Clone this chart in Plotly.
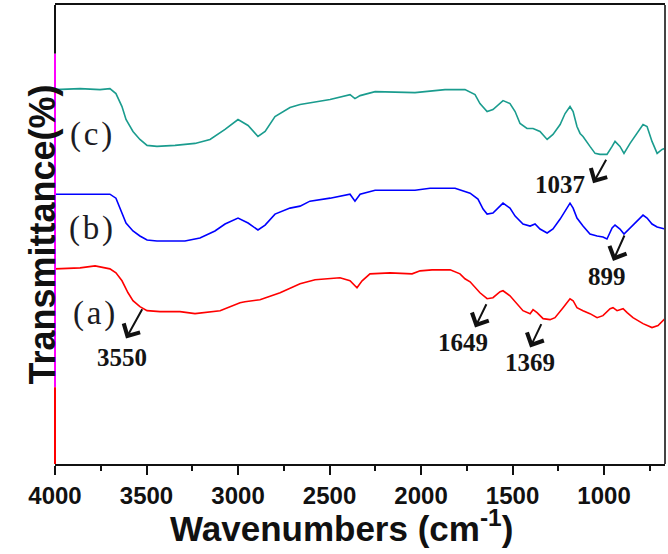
import plotly.graph_objects as go

# ---- data (wavenumber cm-1, transmittance arbitrary units, offset curves) ----
wn_c = [4000, 3863, 3754, 3700, 3667, 3634, 3612, 3574, 3536, 3497, 3443, 3344, 3235, 3153, 3071, 3000,
        2945, 2891, 2852, 2798, 2716, 2661, 2497, 2388, 2361, 2333, 2251, 2033, 1869, 1760, 1705, 1678,
        1639, 1607, 1552, 1514, 1486, 1459, 1421, 1388, 1350, 1311, 1279, 1240, 1213, 1186, 1169, 1148,
        1131, 1115, 1077, 1049, 1022, 984, 956, 940, 913, 891, 858, 820, 787, 765, 738, 710, 683, 667]
t_c = [376, 377, 376, 377, 372, 359, 346, 334, 326, 320, 319, 320, 322, 326, 336, 346,
       340, 329, 334, 349, 358, 361, 366, 371, 367, 370, 374, 373, 376, 376, 371, 362,
       354, 356, 365, 362, 354, 342, 337, 337, 334, 326, 331, 341, 352, 359, 354, 339,
       332, 329, 319, 312, 311, 311, 319, 324, 319, 312, 322, 332, 341, 339, 324, 312, 316, 317]

wn_b = [4000, 3863, 3754, 3700, 3667, 3634, 3612, 3574, 3536, 3497, 3443, 3290, 3208, 3126, 3071, 3000,
        2945, 2891, 2852, 2798, 2716, 2661, 2607, 2497, 2388, 2361, 2333, 2251, 2033, 1951, 1814, 1732,
        1689, 1661, 1639, 1607, 1552, 1514, 1486, 1443, 1404, 1377, 1350, 1311, 1279, 1240, 1202, 1186,
        1169, 1148, 1115, 1077, 1038, 1006, 984, 956, 940, 913, 891, 858, 820, 787, 765, 738, 710, 683, 667]
t_b = [271, 271, 271, 271, 267, 252, 242, 234, 229, 225, 224, 224, 227, 234, 241, 247,
       242, 235, 240, 251, 257, 259, 264, 267, 271, 264, 271, 275, 275, 277, 277, 272,
       266, 256, 251, 252, 262, 257, 249, 241, 239, 241, 236, 232, 236, 246, 257, 262,
       257, 247, 239, 231, 229, 228, 226, 237, 240, 236, 231, 237, 244, 250, 247, 241, 238, 237, 236]

wn_a = [4000, 3863, 3781, 3700, 3667, 3634, 3601, 3574, 3536, 3497, 3426, 3317, 3235, 3180, 3098, 2989,
        2962, 2880, 2770, 2661, 2579, 2443, 2388, 2350, 2322, 2279, 2169, 2049, 2005, 1940, 1841, 1787,
        1760, 1732, 1678, 1639, 1607, 1568, 1552, 1514, 1475, 1443, 1404, 1388, 1366, 1333, 1295, 1268,
        1224, 1186, 1169, 1148, 1115, 1077, 1038, 1006, 967, 951, 929, 896, 874, 842, 787, 738, 705, 667]
t_a = [196, 197, 199, 196, 192, 184, 172, 164, 158, 154, 153, 153, 151, 152, 154, 162,
       163, 165, 172, 181, 185, 187, 184, 177, 184, 191, 192, 191, 194, 195, 195, 191,
       186, 183, 172, 166, 167, 173, 174, 169, 161, 154, 151, 155, 152, 146, 145, 147,
       157, 166, 164, 157, 154, 151, 147, 149, 156, 157, 154, 156, 152, 147, 141, 137, 139, 146]

curve_labels = ["(a)", "(b)", "(c)"]
label_pos_x = [3787, 3803, 3803]
label_pos_y = [151, 237, 331]

peak_labels = ["3550", "1649", "1369", "1037", "899"]
peak_text_x = [3634, 1770, 1404, 1240, 984]
peak_text_y = [107, 122, 102, 281, 188]
arrow_tail_x = [3519, 1639, 1339, 984, 885]
arrow_tail_y = [157, 162, 142, 307, 231]
arrow_head_x = [3612, 1705, 1404, 1060, 951]
arrow_head_y = [126, 137, 117, 282, 204]

xticks = [4000, 3500, 3000, 2500, 2000, 1500, 1000]

fig = go.Figure()
for wn, t, col in [(wn_a, t_a, "#ff0000"), (wn_b, t_b, "#0000ff"), (wn_c, t_c, "#1a9c8e")]:
    fig.add_trace(go.Scatter(x=wn, y=t, mode="lines", line=dict(color=col, width=1.6),
                             showlegend=False, hoverinfo="skip"))

annotations = []
serif = "Liberation Serif, Times New Roman, serif"
sans = "Liberation Sans, Arial, sans-serif"
for txt, x, y in zip(curve_labels, label_pos_x, label_pos_y):
    lab = txt[0] + "\u200a" + txt[1] + "\u200a" + txt[2]
    annotations.append(dict(x=x, y=y, xref="x", yref="y", text=lab, showarrow=False,
                            font=dict(family=serif, size=33, color="#1c1c24")))
for txt, x, y in zip(peak_labels, peak_text_x, peak_text_y):
    annotations.append(dict(x=x, y=y, xref="x", yref="y", text=txt, showarrow=False,
                            font=dict(family=serif, size=25, color="#141414", weight="bold")))
for hx, hy, tx, ty in zip(arrow_head_x, arrow_head_y, arrow_tail_x, arrow_tail_y):
    annotations.append(dict(x=hx, y=hy, xref="x", yref="y", ax=tx, ay=ty, axref="x", ayref="y",
                            text="", showarrow=True, arrowhead=4, arrowsize=1.8, arrowwidth=2,
                            arrowcolor="#111111"))
annotations.append(dict(x=-0.058, y=0.5, xref="paper", yref="paper", text="Transmittance(%)",
                        textangle=-90, showarrow=False,
                        font=dict(family=sans, size=36, color="#111111", weight="bold")))
annotations.append(dict(x=0.469, y=-0.187, xref="paper", yref="paper", yanchor="bottom",
                        text="Wavenumbers (cm<sup>-1</sup>)", showarrow=False,
                        font=dict(family=sans, size=35, color="#111111", weight="bold")))

shapes = [
    dict(type="line", xref="paper", yref="paper", x0=0, x1=0, y0=1, y1=(464 - 52) / 461,
         line=dict(color="#111111", width=2)),
    dict(type="line", xref="paper", yref="paper", x0=0, x1=0, y0=(464 - 52) / 461, y1=(464 - 387) / 461,
         line=dict(color="#ff00ff", width=2)),
    dict(type="line", xref="paper", yref="paper", x0=0, x1=0, y0=(464 - 387) / 461, y1=0,
         line=dict(color="#ff0000", width=2)),
    dict(type="line", xref="paper", yref="paper", x0=1, x1=1, y0=0, y1=1,
         line=dict(color="#444444", width=2)),
]

fig.update_layout(
    width=668, height=554,
    margin=dict(l=55, r=3, t=3, b=90),
    paper_bgcolor="white", plot_bgcolor="white",
    annotations=annotations, shapes=shapes,
    xaxis=dict(range=[4000, 667], tickvals=xticks, ticktext=[str(v) for v in xticks],
               ticks="outside", ticklen=9, tickwidth=2, tickcolor="#111111",
               minor=dict(dtick=250, tick0=0, ticks="outside", ticklen=5, tickwidth=2, tickcolor="#111111"),
               showline=True, linecolor="#111111", linewidth=2, mirror=True,
               showgrid=False, zeroline=False,
               tickfont=dict(family=sans, size=24, color="#111111", weight="bold")),
    yaxis=dict(range=[0, 461], showticklabels=False, ticks="", showline=False,
               showgrid=False, zeroline=False),
)

fig.write_html("out.html", config={"displayModeBar": False},
               post_script="document.body.style.margin='0px';document.body.style.overflow='hidden';")
